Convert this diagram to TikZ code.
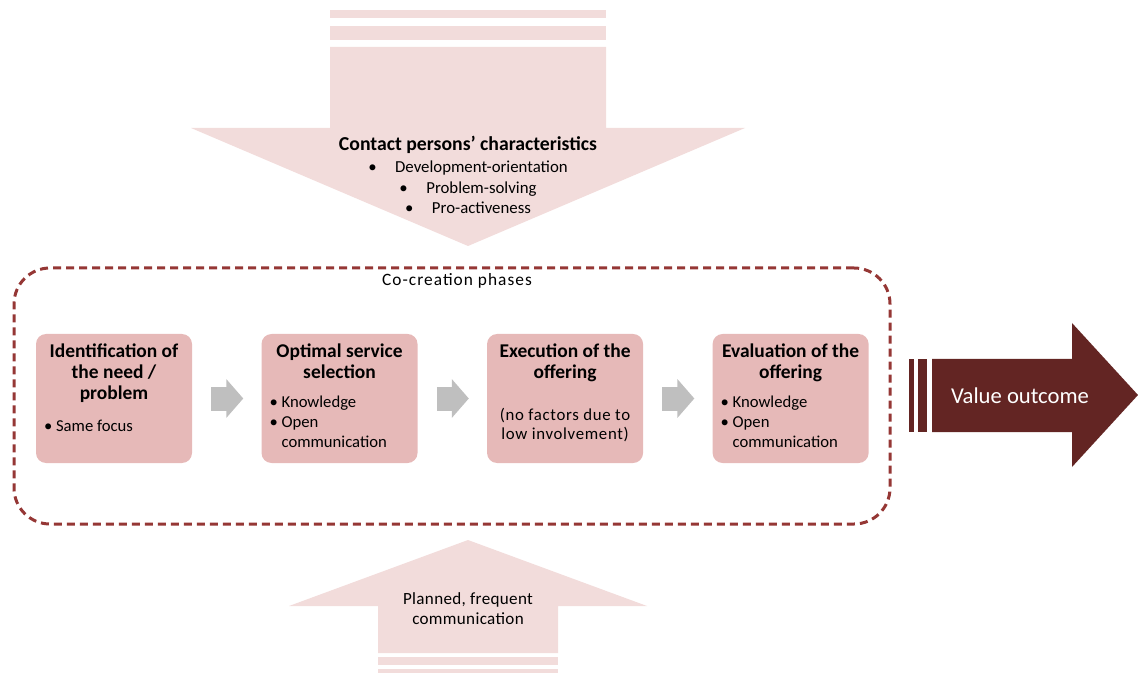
\documentclass[tikz,border=0pt]{standalone}
\usepackage{fontspec}
\setmainfont{Carlito}
\usetikzlibrary{positioning,arrows.meta}
\definecolor{blush}{HTML}{F2DCDB}
\definecolor{phasefill}{HTML}{E6B9B8}
\definecolor{dashred}{HTML}{953735}
\definecolor{wine}{HTML}{632523}
\definecolor{flowgray}{HTML}{BFBFBF}
\tikzset{
  phase/.style={fill=phasefill, rounded corners=7.5pt, minimum width=117pt, minimum height=96.75pt, inner sep=0pt},
  phasehead/.style={font=\fontsize{14.6}{15.75}\selectfont\bfseries, align=center, inner sep=0pt},
  phaseitems/.style={font=\fontsize{12.5}{15}\selectfont, align=left, inner sep=0pt, anchor=north west},
  phasenote/.style={font=\fontsize{12.6}{14.25}\selectfont\addfontfeature{LetterSpace=4}, align=center, inner sep=0pt},
  flow/.style={draw=flowgray, line width=18pt, -{Triangle[length=12.75pt,width=28.5pt]}, shorten <=14.25pt, shorten >=13.5pt},
}

\begin{document}
\begin{tikzpicture}[x=0.75pt, y=-0.75pt]
\def\midx{468}
\useasboundingbox (0,0) rectangle (1138,673);

% arrow from above
\fill[blush] (330,10) rectangle (606,18);
\fill[blush] (330,26) rectangle (606,40);
\fill[blush] (330,47) -- (606,47) -- (606,128) -- (745,128) -- (\midx,246) -- (191,128) -- (330,128) -- cycle;
\node[font=\fontsize{14.8}{16}\selectfont\bfseries, inner sep=0pt] (contact) at (\midx,145) {Contact persons’ characteristics};
\node[font=\fontsize{12.6}{15.4}\selectfont, align=center, inner sep=0pt] (traits) at (\midx,187.5)
  {\textbullet\hspace{1.1em}Development-orientation\\ \textbullet\hspace{1.1em}Problem-solving\\ \textbullet\hspace{1.1em}Pro-activeness};

% co-creation frame
\node[draw=dashred, line width=2.25pt, dash pattern=on 6pt off 3.75pt, rounded corners=27pt,
  minimum width=657pt, minimum height=192pt] (frame) at (452,396) {};
\node[font=\fontsize{13}{14}\selectfont\addfontfeature{LetterSpace=6}, inner sep=0pt] (phases) at (457,281) {Co-creation phases};

% phases
\node[phase] (p1) at (114,398.5) {};
\node[phase, right=51.75pt of p1] (p2) {};
\node[phase, right=51.75pt of p2] (p3) {};
\node[phase, right=51.75pt of p3] (p4) {};

\node[phasehead, below=7.5pt of p1.north] (h1) {Identification of\\the need /\\problem};
\node[phasehead, below=7.5pt of p2.north] (h2) {Optimal service\\selection};
\node[phasehead, below=7.5pt of p3.north] (h3) {Execution of the\\offering};
\node[phasehead, below=7.5pt of p4.north] (h4) {Evaluation of the\\offering};

\node[phaseitems] (i1) at ([xshift=6pt, yshift=-12.75pt] p1.west |- h1.south) {\textbullet\ Same focus};
\node[phaseitems] (i2) at ([xshift=6pt, yshift=-12.75pt] p2.west |- h2.south)
  {\textbullet\ Knowledge\\ \textbullet\ Open\\ \hphantom{\textbullet\ }communication};
\node[phasenote, below=19pt of h3] (i3) {(no factors due to\\low involvement)};
\node[phaseitems] (i4) at ([xshift=6pt] p4.west |- i2.north)
  {\textbullet\ Knowledge\\ \textbullet\ Open\\ \hphantom{\textbullet\ }communication};

\draw[flow] (p1.east) -- (p2.west);
\draw[flow] (p2.east) -- (p3.west);
\draw[flow] (p3.east) -- (p4.west);

% value outcome
\fill[wine] (909,359) rectangle (914,432);
\fill[wine] (918,359) rectangle (927,432);
\fill[wine] (932,359) -- (1072,359) -- (1072,323) -- (1138,395) -- (1072,467) -- (1072,432) -- (932,432) -- cycle;
\node[font=\fontsize{17}{18}\selectfont, text=white, inner sep=0pt] (value) at (1020,395.5) {Value outcome};

% arrow from below
\fill[blush] (378,653) -- (378,606) -- (289,606) -- (\midx,540) -- (647,606) -- (558,606) -- (558,653) -- cycle;
\fill[blush] (378,657) rectangle (558,665);
\fill[blush] (378,669) rectangle (558,673);
\node[font=\fontsize{12.8}{15.5}\selectfont\addfontfeature{LetterSpace=2}, align=center, inner sep=0pt] (planned) at (\midx,608.5) {Planned, frequent\\communication};
\end{tikzpicture}
\end{document}
